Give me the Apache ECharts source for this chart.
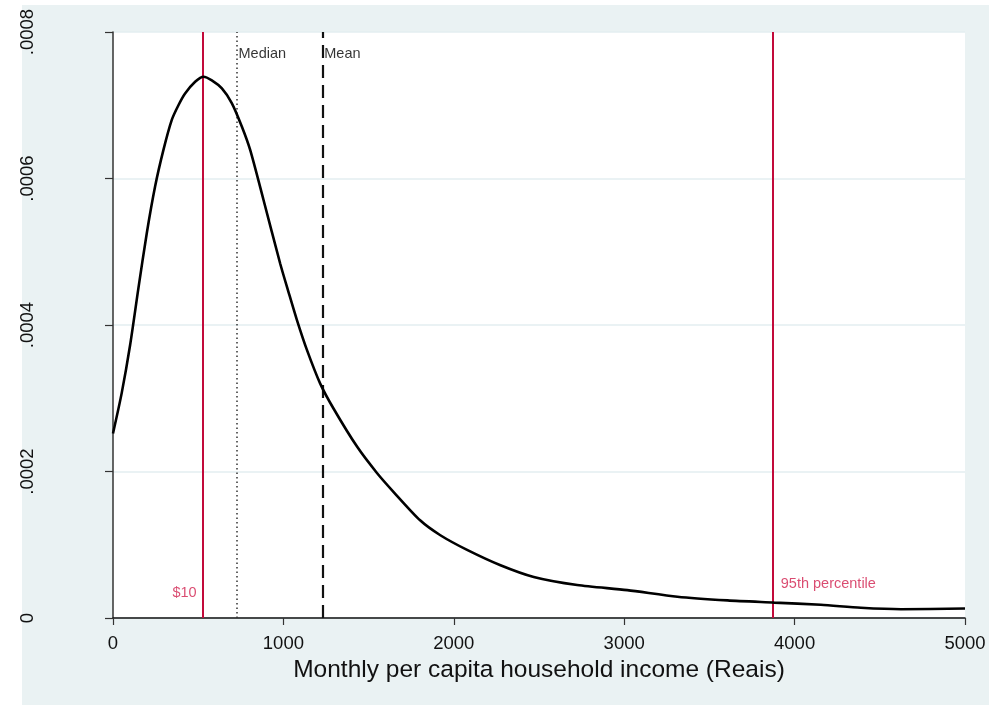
<!DOCTYPE html>
<html>
<head>
<meta charset="utf-8">
<script src="https://cdn.jsdelivr.net/npm/echarts@6/dist/echarts.min.js"></script>
<style>
  html, body { margin: 0; padding: 0; background: #ffffff; }
  #bg { position: absolute; left: 22px; top: 5px; width: 967px; height: 700px; background: #eaf2f3; }
  #main { position: absolute; left: 0; top: 0; width: 989px; height: 705px; }
</style>
</head>
<body>
<div id="bg"></div>
<div id="main"></div>
<script>
// kernel density of monthly per capita household income
const income = [0, 51, 100, 149, 198, 247, 296, 345, 384, 423, 482, 531, 580, 639, 697, 756,
    805, 883, 981, 1030, 1079, 1138, 1216, 1294, 1432, 1549, 1647, 1804, 1921, 2078,
    2274, 2469, 2724, 3018, 3312, 3606, 3880, 4154, 4389, 4624, 5000];
// density in units of 1e-4
const densityE4 = [2.52, 3.07, 3.72, 4.50, 5.25, 5.89, 6.39, 6.80, 7.00, 7.16, 7.32, 7.39, 7.34,
    7.23, 7.03, 6.71, 6.39, 5.71, 4.84, 4.45, 4.07, 3.66, 3.20, 2.86, 2.34, 1.98, 1.72,
    1.33, 1.13, 0.93, 0.72, 0.56, 0.45, 0.38, 0.29, 0.24, 0.21, 0.18, 0.14, 0.12, 0.13];

// reference lines: $10 a day, median, mean, 95th percentile
const refX = [526, 725, 1228, 3872];
const refNames = ['$10', 'Median', 'Mean', '95th percentile'];
const refLabelY = [0.000034, 0.00077, 0.00077, 0.0000464];

const xTicks = [0, 1000, 2000, 3000, 4000, 5000];
const yTicks = [0, 0.0002, 0.0004, 0.0006, 0.0008];

const RED = '#c20a3a';
const RED_TEXT = '#d11f4d';
const FONT = "'Liberation Sans', Arial, Helvetica, sans-serif";

const chart = echarts.init(document.getElementById('main'));

const curve = income.map(function (x, i) { return [x, densityE4[i] / 10000]; });

const refStyles = [
    { color: RED, width: 2, type: 'solid' },
    { color: '#333333', width: 1.5, type: [1.5, 3] },
    { color: '#111111', width: 2.2, type: [13, 7] },
    { color: RED, width: 2, type: 'solid' }
];
const labelSide = ['left', 'right', 'right', 'right'];
const labelGap = [6, 2, 2, 8];
const labelColor = [RED_TEXT, '#000000', '#000000', RED_TEXT];

const option = {
    backgroundColor: 'transparent',
    animation: false,
    grid: {
        left: 113,
        right: 24,
        top: 32,
        bottom: 87,
        show: true,
        backgroundColor: '#ffffff',
        borderWidth: 0
    },
    xAxis: {
        type: 'value',
        min: xTicks[0],
        max: xTicks[xTicks.length - 1],
        interval: 1000,
        name: 'Monthly per capita household income (Reais)',
        nameLocation: 'middle',
        nameGap: 34,
        nameTextStyle: { fontFamily: FONT, fontSize: 24.5, color: '#111' },
        axisLine: { show: true, lineStyle: { color: '#111', width: 1.5 } },
        axisTick: { show: true, length: 7, lineStyle: { color: '#333', width: 1.2 } },
        axisLabel: {
            fontFamily: FONT, fontSize: 18.5, color: '#111', margin: 16,
            formatter: function (v) { return String(v); }
        },
        splitLine: { show: false }
    },
    yAxis: {
        type: 'value',
        min: yTicks[0],
        max: yTicks[yTicks.length - 1],
        interval: 0.0002,
        axisLine: { show: true, lineStyle: { color: '#333', width: 1.5 } },
        axisTick: { show: true, length: 8, lineStyle: { color: '#333', width: 1.2 } },
        axisLabel: {
            fontFamily: FONT,
            fontSize: 18.5,
            color: '#111',
            rotate: 90,
            margin: 76,
            formatter: function (v) {
                if (v === 0) return '0';
                return v.toFixed(4).replace(/^0/, '');
            }
        },
        splitLine: {
            show: true,
            lineStyle: { color: '#e3eef0', width: 1.5 }
        }
    },
    series: [
        {
            type: 'line',
            data: curve,
            smooth: 0.25,
            showSymbol: false,
            lineStyle: { color: '#000', width: 2.6 },
            z: 5,
            markLine: {
                silent: true,
                symbol: 'none',
                label: { show: false },
                data: refX.map(function (x, i) {
                    return { xAxis: x, lineStyle: refStyles[i] };
                })
            }
        },
        {
            type: 'scatter',
            symbolSize: 0,
            silent: true,
            data: refX.map(function (x, i) {
                return {
                    value: [x, refLabelY[i]],
                    label: {
                        show: true,
                        position: labelSide[i],
                        distance: labelGap[i],
                        formatter: refNames[i],
                        fontFamily: FONT,
                        fontSize: 14.5,
                        color: labelColor[i]
                    }
                };
            })
        }
    ]
};

chart.setOption(option);
</script>
</body>
</html>
